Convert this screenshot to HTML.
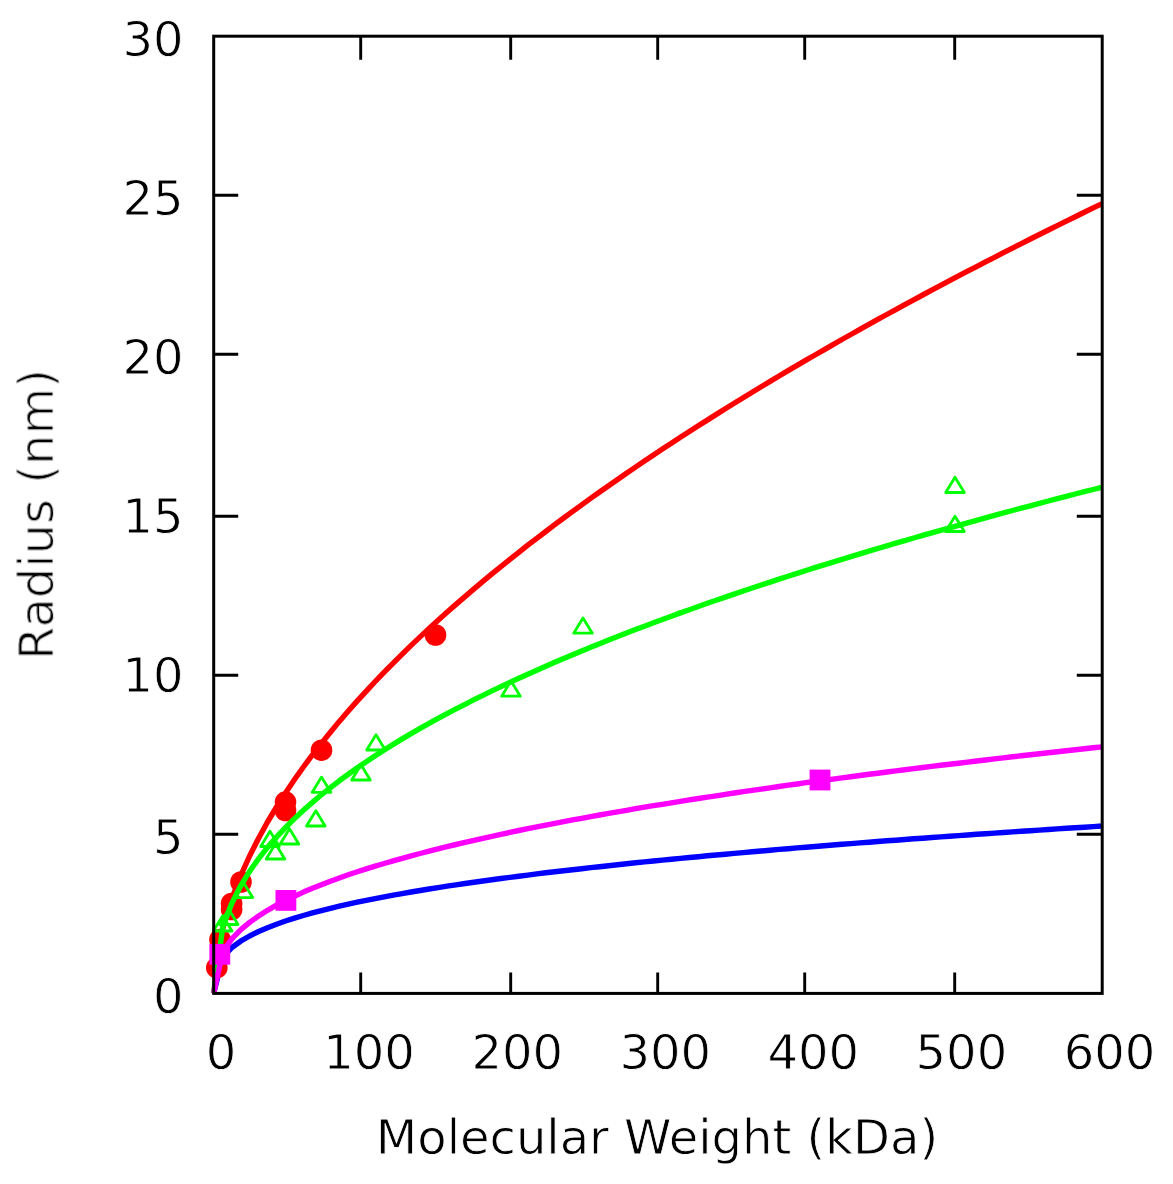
<!DOCTYPE html>
<html><head><meta charset="utf-8"><title>Radius vs Molecular Weight</title>
<style>html,body{margin:0;padding:0;background:#fff}svg{display:block}text{font-family:"DejaVu Sans","Liberation Sans",sans-serif;font-size:48px;fill:#000;stroke:#fff;stroke-width:0.8px;paint-order:fill stroke;filter:url(#soft)}</style>
</head><body>
<svg width="1173" height="1184" viewBox="0 0 1173 1184">
<defs><filter id="soft" x="-5%" y="-20%" width="110%" height="140%"><feGaussianBlur stdDeviation="0.55"/></filter></defs>
<rect width="1173" height="1184" fill="#fff"/>
<g>
<polyline fill="none" stroke="#0000ff" stroke-width="5.4" stroke-linejoin="round" points="213.7,993.4 222.7,957.2 231.6,947.8 240.6,941.2 249.6,936.0 258.6,931.5 267.5,927.7 276.5,924.2 285.5,921.0 294.5,918.1 303.4,915.5 312.4,912.9 321.4,910.6 330.4,908.3 339.3,906.2 348.3,904.2 357.3,902.2 366.3,900.4 375.2,898.6 384.2,896.9 393.2,895.2 402.2,893.6 411.1,892.0 420.1,890.5 429.1,889.0 438.1,887.6 447.0,886.2 456.0,884.9 465.0,883.5 474.0,882.3 482.9,881.0 491.9,879.8 500.9,878.5 509.9,877.4 518.8,876.2 527.8,875.1 536.8,873.9 545.8,872.8 554.7,871.8 563.7,870.7 572.7,869.7 581.7,868.7 590.6,867.6 599.6,866.7 608.6,865.7 617.6,864.7 626.5,863.8 635.5,862.8 644.5,861.9 653.5,861.0 662.4,860.1 671.4,859.2 680.4,858.4 689.4,857.5 698.3,856.7 707.3,855.8 716.3,855.0 725.3,854.2 734.2,853.4 743.2,852.6 752.2,851.8 761.2,851.0 770.1,850.2 779.1,849.4 788.1,848.7 797.1,847.9 806.0,847.2 815.0,846.5 824.0,845.7 833.0,845.0 841.9,844.3 850.9,843.6 859.9,842.9 868.9,842.2 877.8,841.5 886.8,840.8 895.8,840.2 904.8,839.5 913.7,838.8 922.7,838.2 931.7,837.5 940.7,836.9 949.6,836.2 958.6,835.6 967.6,835.0 976.6,834.3 985.5,833.7 994.5,833.1 1003.5,832.5 1012.5,831.9 1021.4,831.3 1030.4,830.7 1039.4,830.1 1048.4,829.5 1057.3,828.9 1066.3,828.3 1075.3,827.7 1084.3,827.2 1093.2,826.6 1102.2,826.0"/>
<polyline fill="none" stroke="#ff0000" stroke-width="5.4" stroke-linejoin="round" points="213.7,993.4 222.7,928.8 231.6,899.2 240.6,875.9 249.6,856.0 258.6,838.2 267.5,822.0 276.5,807.0 285.5,792.9 294.5,779.6 303.4,767.0 312.4,754.9 321.4,743.3 330.4,732.2 339.3,721.4 348.3,711.0 357.3,700.9 366.3,691.1 375.2,681.5 384.2,672.2 393.2,663.1 402.2,654.2 411.1,645.4 420.1,636.9 429.1,628.5 438.1,620.3 447.0,612.3 456.0,604.4 465.0,596.6 474.0,588.9 482.9,581.4 491.9,573.9 500.9,566.6 509.9,559.4 518.8,552.3 527.8,545.2 536.8,538.3 545.8,531.5 554.7,524.7 563.7,518.0 572.7,511.4 581.7,504.9 590.6,498.4 599.6,492.0 608.6,485.7 617.6,479.5 626.5,473.3 635.5,467.1 644.5,461.1 653.5,455.1 662.4,449.1 671.4,443.2 680.4,437.3 689.4,431.5 698.3,425.8 707.3,420.1 716.3,414.4 725.3,408.8 734.2,403.2 743.2,397.7 752.2,392.2 761.2,386.8 770.1,381.4 779.1,376.0 788.1,370.7 797.1,365.4 806.0,360.2 815.0,355.0 824.0,349.8 833.0,344.6 841.9,339.5 850.9,334.5 859.9,329.4 868.9,324.4 877.8,319.4 886.8,314.5 895.8,309.6 904.8,304.7 913.7,299.8 922.7,295.0 931.7,290.2 940.7,285.4 949.6,280.7 958.6,275.9 967.6,271.2 976.6,266.6 985.5,261.9 994.5,257.3 1003.5,252.7 1012.5,248.1 1021.4,243.6 1030.4,239.0 1039.4,234.5 1048.4,230.0 1057.3,225.6 1066.3,221.1 1075.3,216.7 1084.3,212.3 1093.2,207.9 1102.2,203.6"/>
<circle cx="321.5" cy="750.2" r="10.8" fill="#ff0000"/>
<circle cx="285.5" cy="802.1" r="10.8" fill="#ff0000"/>
<circle cx="285.5" cy="810.5" r="10.8" fill="#ff0000"/>
<circle cx="241" cy="882" r="10.8" fill="#ff0000"/>
<circle cx="231.6" cy="903.5" r="10.8" fill="#ff0000"/>
<circle cx="231.6" cy="909.5" r="10.8" fill="#ff0000"/>
<circle cx="220" cy="939.5" r="10.8" fill="#ff0000"/>
<circle cx="216.8" cy="967.7" r="10.8" fill="#ff0000"/>
<circle cx="435.5" cy="635" r="10.8" fill="#ff0000"/>
<polyline fill="none" stroke="#00ff00" stroke-width="5.4" stroke-linejoin="round" points="213.7,993.4 222.7,927.4 231.6,903.7 240.6,886.0 249.6,871.4 258.6,858.7 267.5,847.4 276.5,837.1 285.5,827.5 294.5,818.6 303.4,810.3 312.4,802.4 321.4,794.8 330.4,787.7 339.3,780.8 348.3,774.2 357.3,767.8 366.3,761.7 375.2,755.7 384.2,750.0 393.2,744.4 402.2,738.9 411.1,733.6 420.1,728.4 429.1,723.4 438.1,718.4 447.0,713.6 456.0,708.9 465.0,704.3 474.0,699.7 482.9,695.3 491.9,690.9 500.9,686.6 509.9,682.4 518.8,678.3 527.8,674.2 536.8,670.2 545.8,666.2 554.7,662.3 563.7,658.5 572.7,654.7 581.7,651.0 590.6,647.3 599.6,643.7 608.6,640.1 617.6,636.6 626.5,633.1 635.5,629.6 644.5,626.2 653.5,622.8 662.4,619.5 671.4,616.2 680.4,612.9 689.4,609.7 698.3,606.5 707.3,603.3 716.3,600.2 725.3,597.1 734.2,594.1 743.2,591.0 752.2,588.0 761.2,585.0 770.1,582.1 779.1,579.1 788.1,576.2 797.1,573.4 806.0,570.5 815.0,567.7 824.0,564.9 833.0,562.1 841.9,559.3 850.9,556.6 859.9,553.9 868.9,551.2 877.8,548.5 886.8,545.8 895.8,543.2 904.8,540.6 913.7,538.0 922.7,535.4 931.7,532.8 940.7,530.3 949.6,527.8 958.6,525.3 967.6,522.8 976.6,520.3 985.5,517.8 994.5,515.4 1003.5,512.9 1012.5,510.5 1021.4,508.1 1030.4,505.8 1039.4,503.4 1048.4,501.0 1057.3,498.7 1066.3,496.4 1075.3,494.0 1084.3,491.7 1093.2,489.5 1102.2,487.2"/>
<polygon points="955,477.3 945.7,492.5 964.3,492.5" fill="none" stroke="#00ff00" stroke-width="2.8" stroke-linejoin="round"/>
<polygon points="955,516.3 945.7,531.5 964.3,531.5" fill="none" stroke="#00ff00" stroke-width="2.8" stroke-linejoin="round"/>
<polygon points="376,734.8 366.7,750.0 385.3,750.0" fill="none" stroke="#00ff00" stroke-width="2.8" stroke-linejoin="round"/>
<polygon points="361,764.8 351.7,780.0 370.3,780.0" fill="none" stroke="#00ff00" stroke-width="2.8" stroke-linejoin="round"/>
<polygon points="321.5,777.0999999999999 312.2,792.3 330.8,792.3" fill="none" stroke="#00ff00" stroke-width="2.8" stroke-linejoin="round"/>
<polygon points="315.8,810.8 306.5,826.0 325.1,826.0" fill="none" stroke="#00ff00" stroke-width="2.8" stroke-linejoin="round"/>
<polygon points="289.5,828.8 280.2,844.0 298.8,844.0" fill="none" stroke="#00ff00" stroke-width="2.8" stroke-linejoin="round"/>
<polygon points="275.5,843.8 266.2,859.0 284.8,859.0" fill="none" stroke="#00ff00" stroke-width="2.8" stroke-linejoin="round"/>
<polygon points="270,831.3 260.7,846.5 279.3,846.5" fill="none" stroke="#00ff00" stroke-width="2.8" stroke-linejoin="round"/>
<polygon points="243.4,882.4 234.1,897.6 252.70000000000002,897.6" fill="none" stroke="#00ff00" stroke-width="2.8" stroke-linejoin="round"/>
<polygon points="228.7,909.3 219.39999999999998,924.5 238.0,924.5" fill="none" stroke="#00ff00" stroke-width="2.8" stroke-linejoin="round"/>
<polygon points="222.7,915.8 213.39999999999998,931.0 232.0,931.0" fill="none" stroke="#00ff00" stroke-width="2.8" stroke-linejoin="round"/>
<polygon points="583,618.0 573.7,633.2 592.3,633.2" fill="none" stroke="#00ff00" stroke-width="2.8" stroke-linejoin="round"/>
<polygon points="511,681.0 501.7,696.2 520.3,696.2" fill="none" stroke="#00ff00" stroke-width="2.8" stroke-linejoin="round"/>
<polyline fill="none" stroke="#ff00ff" stroke-width="5.4" stroke-linejoin="round" points="213.7,993.4 222.7,951.9 231.6,939.2 240.6,929.9 249.6,922.4 258.6,916.0 267.5,910.3 276.5,905.2 285.5,900.5 294.5,896.2 303.4,892.1 312.4,888.3 321.4,884.7 330.4,881.2 339.3,878.0 348.3,874.8 357.3,871.8 366.3,868.9 375.2,866.2 384.2,863.5 393.2,860.8 402.2,858.3 411.1,855.9 420.1,853.5 429.1,851.1 438.1,848.9 447.0,846.6 456.0,844.5 465.0,842.4 474.0,840.3 482.9,838.3 491.9,836.3 500.9,834.3 509.9,832.4 518.8,830.5 527.8,828.7 536.8,826.9 545.8,825.1 554.7,823.4 563.7,821.6 572.7,819.9 581.7,818.3 590.6,816.6 599.6,815.0 608.6,813.4 617.6,811.8 626.5,810.3 635.5,808.7 644.5,807.2 653.5,805.7 662.4,804.3 671.4,802.8 680.4,801.4 689.4,799.9 698.3,798.5 707.3,797.1 716.3,795.8 725.3,794.4 734.2,793.0 743.2,791.7 752.2,790.4 761.2,789.1 770.1,787.8 779.1,786.5 788.1,785.2 797.1,784.0 806.0,782.7 815.0,781.5 824.0,780.3 833.0,779.1 841.9,777.9 850.9,776.7 859.9,775.5 868.9,774.3 877.8,773.2 886.8,772.0 895.8,770.9 904.8,769.8 913.7,768.6 922.7,767.5 931.7,766.4 940.7,765.3 949.6,764.2 958.6,763.2 967.6,762.1 976.6,761.0 985.5,760.0 994.5,758.9 1003.5,757.9 1012.5,756.8 1021.4,755.8 1030.4,754.8 1039.4,753.8 1048.4,752.8 1057.3,751.8 1066.3,750.8 1075.3,749.8 1084.3,748.8 1093.2,747.8 1102.2,746.9"/>
<rect x="209.4" y="943.9" width="20.8" height="20.8" fill="#ff00ff"/>
<rect x="275.5" y="890.0" width="20.8" height="20.8" fill="#ff00ff"/>
<rect x="809.6" y="769.6" width="20.8" height="20.8" fill="#ff00ff"/>
</g>
<g stroke="#000" stroke-width="3" fill="none" stroke-linecap="butt">
<rect x="213.7" y="36.2" width="888.5" height="957.1999999999999"/>
<path d="M360.7,993.4 V972.6 M360.7,36.2 V59.7" stroke-width="2.9"/>
<path d="M510.7,993.4 V972.6 M510.7,36.2 V59.7" stroke-width="2.9"/>
<path d="M657.7,993.4 V972.6 M657.7,36.2 V59.7" stroke-width="2.9"/>
<path d="M804.7,993.4 V972.6 M804.7,36.2 V59.7" stroke-width="2.9"/>
<path d="M954.7,993.4 V972.6 M954.7,36.2 V59.7" stroke-width="2.9"/>
<path d="M213.7,834.2 H238.2 M1102.2,834.2 H1076.8" stroke-width="2.9"/>
<path d="M213.7,675.2 H238.2 M1102.2,675.2 H1076.8" stroke-width="2.9"/>
<path d="M213.7,516.2 H238.2 M1102.2,516.2 H1076.8" stroke-width="2.9"/>
<path d="M213.7,354.2 H238.2 M1102.2,354.2 H1076.8" stroke-width="2.9"/>
<path d="M213.7,195.2 H238.2 M1102.2,195.2 H1076.8" stroke-width="2.9"/>
</g>
<text x="183.5" y="1012.7" text-anchor="end">0</text>
<text x="183.5" y="853.7" text-anchor="end">5</text>
<text x="183.5" y="691.7" text-anchor="end">10</text>
<text x="183.5" y="532.7" text-anchor="end">15</text>
<text x="183.5" y="373.7" text-anchor="end">20</text>
<text x="183.5" y="214.7" text-anchor="end">25</text>
<text x="183.5" y="55.7" text-anchor="end">30</text>
<text x="221.0" y="1069.3" text-anchor="middle">0</text>
<text x="369.1" y="1069.3" text-anchor="middle">100</text>
<text x="517.2" y="1069.3" text-anchor="middle">200</text>
<text x="665.2" y="1069.3" text-anchor="middle">300</text>
<text x="813.3" y="1069.3" text-anchor="middle">400</text>
<text x="961.4" y="1069.3" text-anchor="middle">500</text>
<text x="1109.5" y="1069.3" text-anchor="middle">600</text>
<text x="657" y="1154" text-anchor="middle">Molecular Weight (kDa)</text>
<text transform="translate(53.2,514.5) rotate(-90)" text-anchor="middle">Radius (nm)</text>
</svg></body></html>
